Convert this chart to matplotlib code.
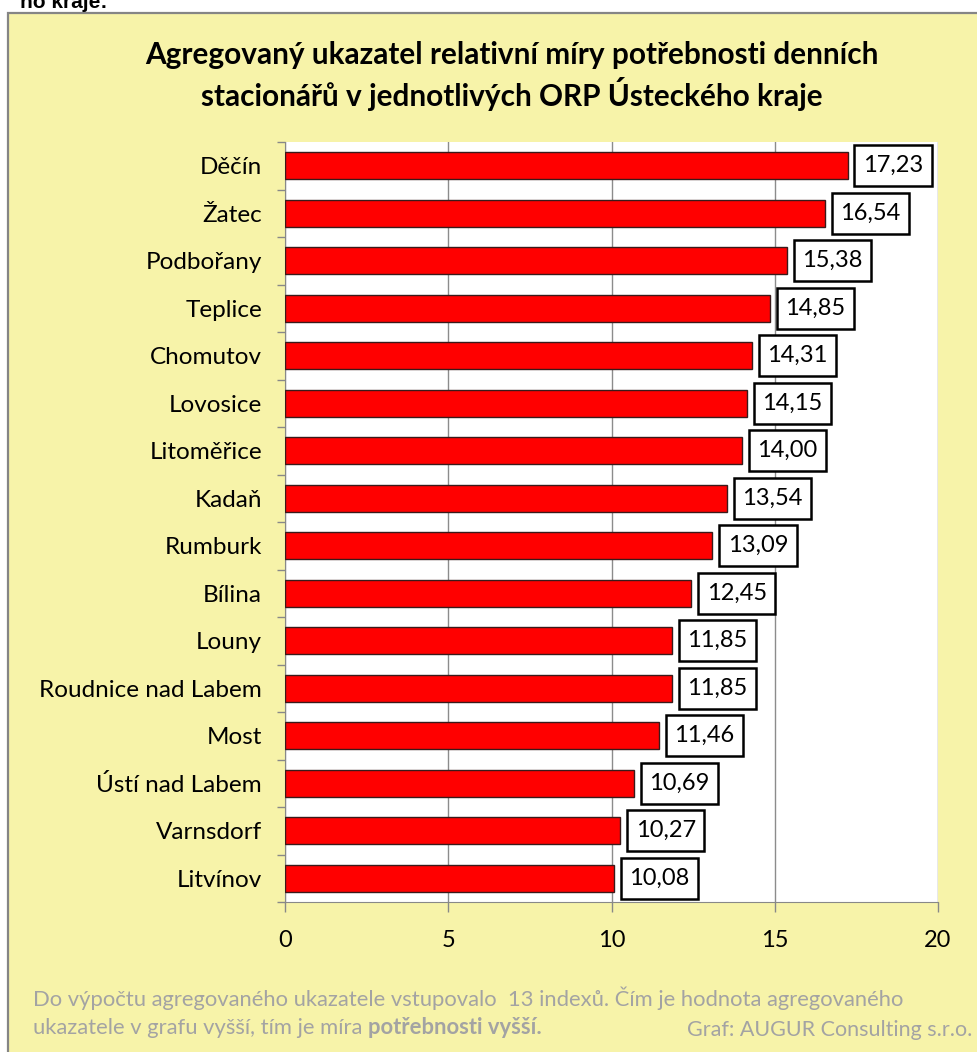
import matplotlib
matplotlib.use("Agg")
import matplotlib.pyplot as plt
import numpy as np
from matplotlib.patches import Rectangle

plt.rcParams['font.family'] = ['Lato', 'DejaVu Sans']

# ORP a hodnoty agregovaného ukazatele
MESTA = ["Děčín", "Žatec", "Podbořany", "Teplice", "Chomutov", "Lovosice",
         "Litoměřice", "Kadaň", "Rumburk", "Bílina", "Louny",
         "Roudnice nad Labem", "Most", "Ústí nad Labem", "Varnsdorf", "Litvínov"]
HODNOTY = [17.23, 16.54, 15.38, 14.85, 14.31, 14.15, 14.00, 13.54, 13.09,
           12.45, 11.85, 11.85, 11.46, 10.69, 10.27, 10.08]
X_TICKS = [0, 5, 10, 15, 20]

TITLE = ("Agregovaný ukazatel relativní míry potřebnosti denních\n"
         "stacionářů v jednotlivých ORP Ústeckého kraje")
POZNAMKA_1 = "Do výpočtu agregovaného ukazatele vstupovalo  13 indexů. Čím je hodnota agregovaného"
POZNAMKA_2 = "ukazatele v grafu vyšší, tím je míra "
POZNAMKA_2B = "potřebnosti vyšší."
ZDROJ = "Graf: AUGUR Consulting s.r.o."

W, H = 977, 1052
fig = plt.figure(figsize=(W / 100, H / 100), dpi=100)
fig.patch.set_facecolor("white")

# žlutý rámeček grafu
fig.patches.append(Rectangle((8 / W, -0.02), 1.0, 1 - 13 / H + 0.02,
                             transform=fig.transFigure, facecolor="#F7F3A9",
                             edgecolor="#858585", linewidth=1.6, zorder=-5))

# useknutý text nad grafem
fig.text(20 / W, 1 - 2 / H, "ho kraje:", fontsize=15, fontweight="bold",
         family=["Liberation Sans", "DejaVu Sans"], va="center", ha="left")

ax = fig.add_axes([285 / W, 1 - 902 / H, 653 / W, 760 / H])
ax.set_facecolor("white")

y = np.arange(len(MESTA))
ax.barh(y, HODNOTY, height=0.57, color="#FF0000", edgecolor="#3a1a1a",
        linewidth=1.0, zorder=3)

ax.set_xlim(0, 20)
ax.set_ylim(len(MESTA) - 0.5, -0.5)
ax.set_xticks(X_TICKS)
ax.set_xticklabels([str(t) for t in X_TICKS], fontsize=17)
ax.set_yticks(y)
ax.set_yticklabels(MESTA, fontsize=17.5)
ax.set_yticks(np.arange(len(MESTA) + 1) - 0.5, minor=True)
ax.tick_params(axis="y", which="major", length=0, pad=16.5)
ax.tick_params(axis="y", which="minor", length=6, color="#888888", width=1)
ax.tick_params(axis="x", length=7, color="#888888", width=1, pad=13)
ax.grid(axis="x", color="#8c8c8c", linewidth=1, zorder=1)
for s in ["top", "right"]:
    ax.spines[s].set_visible(False)
ax.spines["left"].set_color("#888888")
ax.spines["bottom"].set_color("#888888")

popisky = []
for yi, v in zip(y, HODNOTY):
    t = ax.annotate(f"{v:.2f}".replace(".", ","), xy=(v, yi), xytext=(11, 0),
                    textcoords="offset points", va="center", ha="left",
                    fontsize=17, zorder=6)
    popisky.append(t)

fig.text(512 / W, 1 - 76 / H, TITLE, ha="center", va="center", fontsize=21.4,
         fontweight="bold", linespacing=1.3)

seda = "#A3A3A3"
fig.text(33 / W, 1 - 998 / H, POZNAMKA_1, fontsize=15.8, color=seda, va="center")
t2 = fig.text(33 / W, 1 - 1028 / H, POZNAMKA_2, fontsize=15.8, color=seda, va="center")
fig.canvas.draw()
bb = t2.get_window_extent()
fig.text(bb.x1 / W, 1 - 1028 / H, POZNAMKA_2B, fontsize=15.8, color=seda,
         fontweight="bold", va="center")
fig.text(972 / W, 1 - 1030 / H, ZDROJ, fontsize=15.5, color=seda, va="center",
         ha="right")

# rámečky kolem popisků (podle rozměrů textu)
px, py = 8.5, 10
for t in popisky:
    e = t.get_window_extent()
    ax.add_patch(Rectangle(((e.x0 - px) / W, (e.y0 - py) / H),
                           (e.width + 2 * px) / W, (e.height + 2 * py) / H,
                           transform=fig.transFigure, facecolor="white",
                           edgecolor="black", linewidth=1.8, zorder=5,
                           clip_on=False))

fig.savefig("out.png", dpi=100, facecolor="white")
